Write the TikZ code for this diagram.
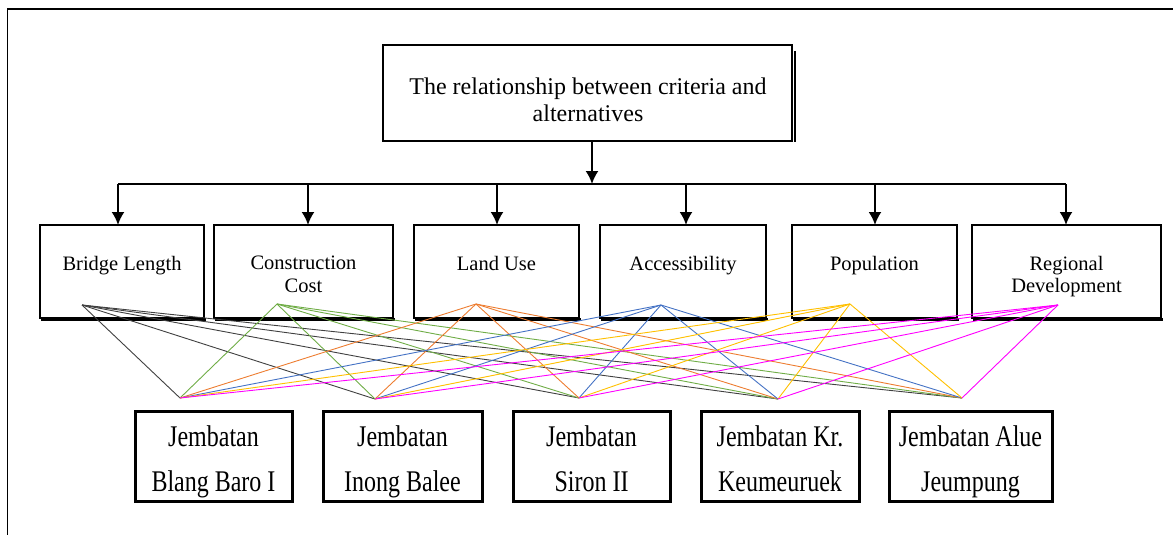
\documentclass[tikz,border=0pt]{standalone}
\usepackage{fontspec}
\setmainfont{Liberation Serif}
\newfontfamily\altfont[FakeStretch=0.8]{Liberation Serif}
\usetikzlibrary{arrows.meta}
\definecolor{cblk}{HTML}{404040}
\definecolor{cgrn}{HTML}{70AD47}
\definecolor{corg}{HTML}{ED7D31}
\definecolor{cblu}{HTML}{4472C4}
\definecolor{cgld}{HTML}{FFC000}
\definecolor{cmag}{HTML}{FF00FF}
\begin{document}
\begin{tikzpicture}[x=1pt,y=-1pt,
  topbox/.style={draw, line width=1.2pt, fill=white, inner sep=0pt, outer sep=0pt, minimum width=409pt, minimum height=96pt},
  critbox/.style={draw, line width=1.2pt, inner sep=0pt, outer sep=0pt, minimum height=93pt},
  altbox/.style={draw, line width=3pt, inner sep=0pt, outer sep=0pt, minimum height=90pt},
  toptext/.style={anchor=north, inner sep=0pt, align=center, font=\fontsize{24}{27}\selectfont},
  crittext/.style={anchor=north, inner sep=0pt, align=center, font=\fontsize{20.5}{22.5}\selectfont},
  alttext/.style={anchor=north, inner sep=0pt, align=center, font=\altfont\fontsize{30}{45}\selectfont},
  arr/.style={line width=2pt, -{Latex[length=13pt,width=13pt]}},
  hline/.style={line width=2pt},
  shadowline/.style={line width=2.6pt},
  link/.style={line width=0.9pt}
]
\useasboundingbox (0,0) rectangle (1173,535);
% frame
\draw[line width=1.2pt] (7.5,535) -- (7.5,9) -- (1173,9);

% top box
\draw[shadowline] (795,51) -- (795,142);
\node[topbox] (top) at (587.5,93) {};
\node[toptext] (ttop) at (588,77.5) {The relationship between criteria and\\alternatives};

% criteria boxes
\node[critbox, minimum width=164pt] (bl) at (122,271.5) {};
\node[critbox, minimum width=179pt] (cc) at (303.5,271.5) {};
\node[critbox, minimum width=165pt] (lu) at (496.5,271.5) {};
\node[critbox, minimum width=166pt] (ac) at (683,271.5) {};
\node[critbox, minimum width=165pt] (po) at (874.5,271.5) {};
\node[critbox, minimum width=189pt] (rd) at (1066.5,271.5) {};
\foreach \b in {bl,cc,lu,ac,po,rd}
  \draw[shadowline] ([xshift=1pt,yshift=-1.3pt]\b.south west) -- ([xshift=2pt,yshift=-1.3pt]\b.south east);

\node[crittext] (tbl) at (122,256) {Bridge Length};
\node[crittext] (tcc) at (303.5,256) {Construction\\Cost};
\node[crittext] (tlu) at (496.5,256) {Land Use};
\node[crittext] (tac) at (683,256) {Accessibility};
\node[crittext] (tpo) at (874.5,256) {Population};
\node[crittext] (trd) at (1066.5,256) {Regional\\Development};

% arrows
\coordinate (hub) at (592,184);
\coordinate (jbl) at (118,184);
\coordinate (jcc) at (308,184);
\coordinate (jlu) at (497,184);
\coordinate (jac) at (686,184);
\coordinate (jpo) at (875,184);
\coordinate (jrd) at (1066,184);
\draw[arr] (hub |- top.south) -- (hub);
\draw[hline] (jbl) -- (jrd);
\draw[arr] (jbl) -- (jbl |- bl.north);
\draw[arr] (jcc) -- (jcc |- cc.north);
\draw[arr] (jlu) -- (jlu |- lu.north);
\draw[arr] (jac) -- (jac |- ac.north);
\draw[arr] (jpo) -- (jpo |- po.north);
\draw[arr] (jrd) -- (jrd |- rd.north);

% link points
\coordinate (sbl) at (82,305);
\coordinate (scc) at (277,304);
\coordinate (slu) at (476,304);
\coordinate (sac) at (661,305);
\coordinate (spo) at (850,304);
\coordinate (srd) at (1058,305);
\coordinate (p1) at (180,398);
\coordinate (p2) at (375,399);
\coordinate (p3) at (579,398);
\coordinate (p4) at (778,399);
\coordinate (p5) at (962,398);

\foreach \s/\c in {sbl/cblk, scc/cgrn, slu/corg, sac/cblu, spo/cgld, srd/cmag}
  \foreach \t in {p1,p2,p3,p4,p5}
    \draw[link, \c] (\s) -- (\t);

% alternatives
\node[altbox, minimum width=157pt] (a1) at (213.5,456) {};
\node[altbox, minimum width=159pt] (a2) at (402.5,456) {};
\node[altbox, minimum width=157pt] (a3) at (591.5,456) {};
\node[altbox, minimum width=158pt] (a4) at (780,456) {};
\node[altbox, minimum width=163pt] (a5) at (970.5,456) {};
\node[alttext] (ta1) at (213.5,425.5) {Jembatan\\Blang Baro I};
\node[alttext] (ta2) at (402.5,425.5) {Jembatan\\Inong Balee};
\node[alttext] (ta3) at (591.5,425.5) {Jembatan\\Siron II};
\node[alttext] (ta4) at (780,425.5) {Jembatan Kr.\\Keumeuruek};
\node[alttext] (ta5) at (970.5,425.5) {Jembatan Alue\\Jeumpung};
\end{tikzpicture}
\end{document}
